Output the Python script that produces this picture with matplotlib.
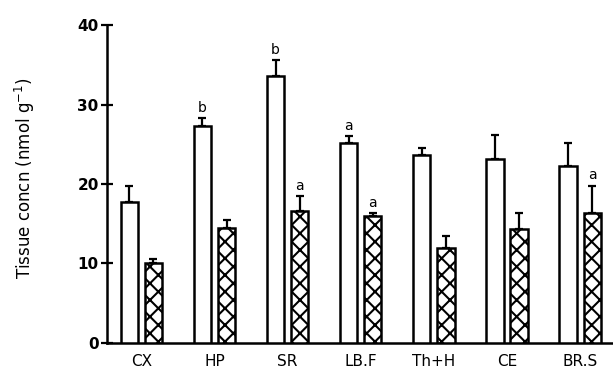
import matplotlib
matplotlib.use("Agg")
import matplotlib.pyplot as plt
import numpy as np

regions = ["CX", "HP", "SR", "LB.F", "Th+H", "CE", "BR.S"]
control = [17.7, 27.3, 33.6, 25.1, 23.7, 23.1, 22.3]
control_err = [2.0, 1.0, 2.0, 0.9, 0.8, 3.1, 2.9]
treated = [10.1, 14.5, 16.6, 16.0, 11.9, 14.4, 16.4]
treated_err = [0.5, 1.0, 1.9, 0.3, 1.5, 2.0, 3.4]
control_sig = ["", "b", "b", "a", "", "", ""]
treated_sig = ["", "", "a", "a", "", "", "a"]
yticks = [0, 10, 20, 30, 40]

plt.rcParams['hatch.linewidth'] = 1.5
fig = plt.figure(figsize=(6.13, 3.74), dpi=100)
ax = fig.add_axes([0.1746, 0.083, 0.8254, 0.85])

x = np.arange(len(regions))
w = 0.235
off = 0.165
ax.bar(x - off, control, w, facecolor="white", edgecolor="black", linewidth=1.8, zorder=3)
ax.bar(x + off, treated, w, facecolor="white", edgecolor="black", linewidth=1.8,
       hatch="xx", zorder=3)
ax.errorbar(x - off, control, yerr=[np.zeros(len(x)), control_err], fmt="none",
            ecolor="black", elinewidth=1.6, capsize=3, capthick=1.6, zorder=2)
ax.errorbar(x + off, treated, yerr=[np.zeros(len(x)), treated_err], fmt="none",
            ecolor="black", elinewidth=1.6, capsize=3, capthick=1.6, zorder=2)

for i in range(len(x)):
    if control_sig[i]:
        ax.text(x[i] - off, control[i] + control_err[i] + 0.4, control_sig[i],
                ha="center", va="bottom", fontsize=10)
    if treated_sig[i]:
        ax.text(x[i] + off, treated[i] + treated_err[i] + 0.4, treated_sig[i],
                ha="center", va="bottom", fontsize=10)

ax.set_xlim(-0.47, 6.45)
ax.set_ylim(0, 40)
ax.set_yticks(yticks)
ax.set_yticklabels([str(t) for t in yticks], fontsize=11, fontweight="bold")
ax.set_xticks(x)
ax.set_xticklabels(regions, fontsize=11)
ax.tick_params(axis="x", length=0, pad=8)
ax.tick_params(axis="y", direction="inout", length=8, width=1.6, pad=2)
for s in ["top", "right"]:
    ax.spines[s].set_visible(False)
ax.spines["left"].set_linewidth(1.8)
ax.spines["bottom"].set_linewidth(1.8)
ax.set_ylabel("Tissue concn (nmol g$^{-1}$)", fontsize=12)
ax.yaxis.set_label_coords(-0.138, 0.52)

fig.savefig("out.png", dpi=100)
